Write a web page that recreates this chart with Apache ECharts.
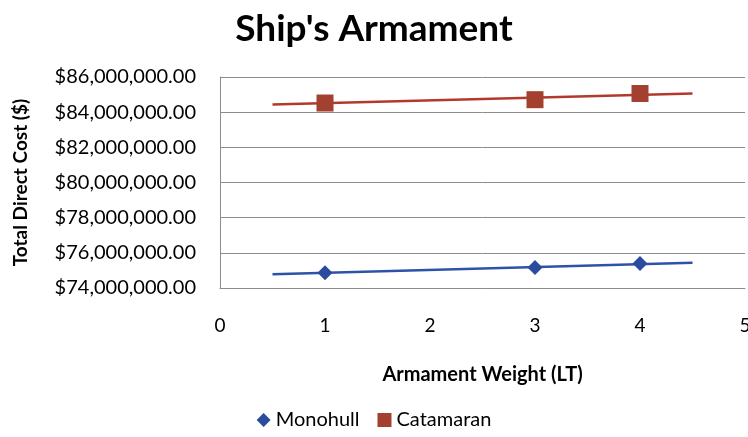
<!DOCTYPE html>
<html>
<head>
<meta charset="utf-8">
<script src="https://cdn.jsdelivr.net/npm/echarts@6/dist/echarts.min.js"></script>
<style>
  html, body { margin: 0; padding: 0; background: #fff; }
  #chart { width: 748px; height: 437px; }
</style>
</head>
<body>
<div id="chart"></div>
<script>
// armament weight (LT)
let weights = [1, 3, 4];
// total direct cost, millions of $
let monohull = [74.87, 75.16, 75.40];
let catamaran = [84.52, 84.71, 85.06];
// trend line ends
let trendX = [0.5, 4.5];
let monohullTrend = [74.78, 75.43];
let catamaranTrend = [84.44, 85.06];

let blue = '#2b4c9c';
let red = '#a3402f';
let font = 'Lato, "Open Sans", sans-serif';

let pairs = (xs, ys) => xs.map((x, i) => [x, ys[i] * 1e6]);

let money = function (v) {
  return '$' + v.toLocaleString('en-US', { minimumFractionDigits: 2, maximumFractionDigits: 2 });
};

let myChart = echarts.init(document.getElementById('chart'));
let option = {
  animation: false,
  backgroundColor: '#fff',
  title: {
    text: "Ship's Armament",
    left: 'center',
    top: 6,
    textStyle: { fontFamily: font, fontSize: 37, fontWeight: 'bold', color: '#000' }
  },
  legend: {
    bottom: 2,
    left: 'center',
    itemWidth: 14,
    itemHeight: 14,
    itemGap: 18,
    textStyle: { fontFamily: font, fontSize: 20, color: '#000' },
    data: [
      { name: 'Monohull', icon: 'diamond', itemStyle: { color: blue } },
      { name: 'Catamaran', icon: 'rect', itemStyle: { color: red } }
    ]
  },
  grid: { left: 220, right: 3, top: 77, bottom: 149, outerBoundsMode: 'none' },
  xAxis: {
    type: 'value',
    min: 0,
    max: 5,
    interval: 1,
    name: 'Armament Weight (LT)',
    nameLocation: 'middle',
    nameGap: 77,
    nameTextStyle: { fontFamily: font, fontSize: 20, fontWeight: 'bold', color: '#000' },
    axisLine: { show: true, lineStyle: { color: '#8c8c8c' } },
    axisTick: { show: false },
    splitLine: { show: false },
    axisLabel: { fontFamily: font, fontSize: 19, color: '#000', margin: 28 }
  },
  yAxis: {
    type: 'value',
    min: 74e6,
    max: 86e6,
    interval: 2e6,
    name: 'Total Direct Cost ($)',
    nameLocation: 'middle',
    nameGap: 190,
    nameTextStyle: { fontFamily: font, fontSize: 19, fontWeight: 'bold', color: '#000' },
    axisLine: { show: true, lineStyle: { color: '#8c8c8c' } },
    axisTick: { show: false },
    splitLine: { show: true, lineStyle: { color: '#8c8c8c' } },
    axisLabel: { fontFamily: font, fontSize: 20, color: '#000', margin: 24, formatter: money }
  },
  series: [
    {
      name: 'Monohull trend',
      type: 'line',
      data: pairs(trendX, monohullTrend),
      showSymbol: false,
      lineStyle: { color: '#2d53a8', width: 2.5 },
      z: 2
    },
    {
      name: 'Catamaran trend',
      type: 'line',
      data: pairs(trendX, catamaranTrend),
      showSymbol: false,
      lineStyle: { color: '#b23a2c', width: 2.5 },
      z: 2
    },
    {
      name: 'Monohull',
      type: 'scatter',
      symbol: 'diamond',
      symbolSize: 15,
      itemStyle: { color: blue, opacity: 1 },
      data: pairs(weights, monohull),
      z: 3
    },
    {
      name: 'Catamaran',
      type: 'scatter',
      symbol: 'rect',
      symbolSize: 17,
      itemStyle: { color: red, opacity: 1 },
      data: pairs(weights, catamaran),
      z: 3
    }
  ]
};

option && myChart.setOption(option);
</script>
</body>
</html>
